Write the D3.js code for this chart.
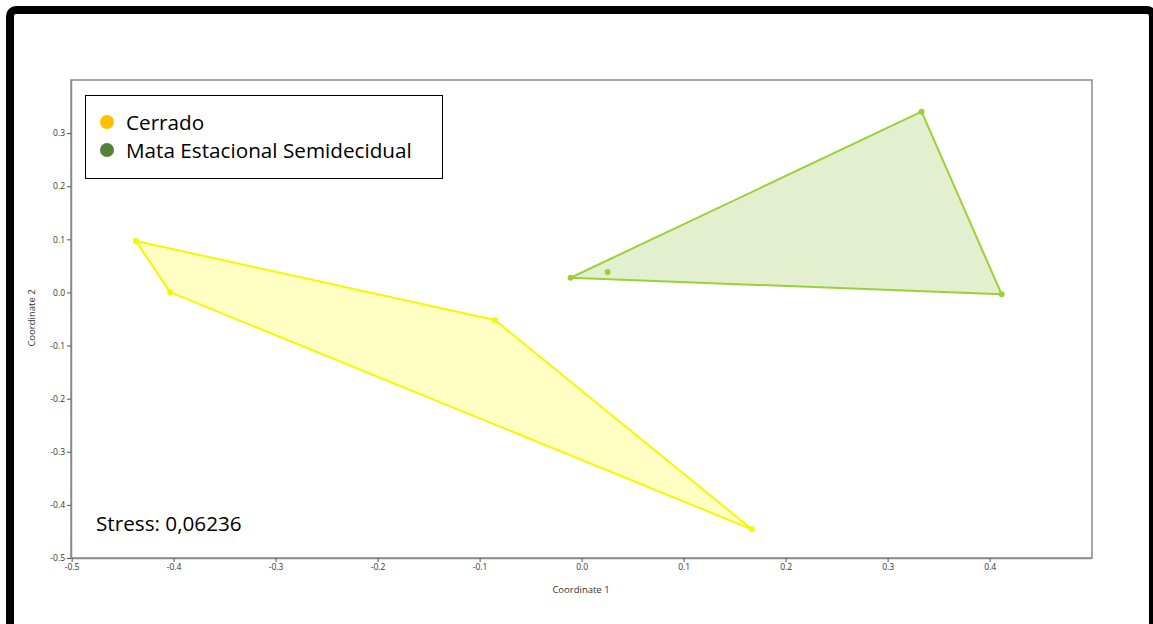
<!DOCTYPE html>
<html>
<head>
<meta charset="utf-8">
<script src="https://cdn.jsdelivr.net/npm/d3@7"></script>
<style>
html,body{margin:0;padding:0;background:#fff;}
svg{display:block;}
</style>
</head>
<body>
<svg id="chart" width="1153" height="624"></svg>
<script>
// Data
const groups = ["Cerrado", "Mata Estacional Semidecidual"];
const legendColors = ["#FFC000", "#548235"];
const cerradoX = [-0.437, -0.4035, -0.085, 0.167];
const cerradoY = [0.097, 0.0005, -0.052, -0.446];
const mataX = [-0.0108, 0.0255, 0.3333, 0.4118];
const mataY = [0.0277, 0.0384, 0.3403, -0.0036];
const xTicks = [-0.5, -0.4, -0.3, -0.2, -0.1, 0.0, 0.1, 0.2, 0.3, 0.4];
const yTicks = [-0.5, -0.4, -0.3, -0.2, -0.1, 0.0, 0.1, 0.2, 0.3];
const stressLabel = "Stress: 0,06236";

const svg = d3.select("#chart");

// outer black frame
svg.append("rect").attr("x", 10).attr("y", 10).attr("width", 1143).attr("height", 640)
  .attr("rx", 6).attr("fill", "none").attr("stroke", "#000").attr("stroke-width", 8);

const x = d3.scaleLinear().domain([-0.5, 0.5]).range([71.6, 1091.6]);
const y = d3.scaleLinear().domain([-0.5, 0.4]).range([558, 80]);

// plot frame
svg.append("rect").attr("x", 71).attr("y", 80).attr("width", 1092 - 71).attr("height", 558 - 80)
  .attr("fill", "none").attr("stroke", "#8a8a8a").attr("stroke-width", 1.5);

const fmt = d => d3.format(".1f")(d).replace("−", "-");

const xAxis = svg.append("g").attr("transform", "translate(0,558)")
  .call(d3.axisBottom(x).tickValues(xTicks).tickSize(4).tickSizeOuter(0).tickPadding(2).tickFormat(fmt));
const yAxis = svg.append("g").attr("transform", "translate(71,0)")
  .call(d3.axisLeft(y).tickValues(yTicks).tickSize(4).tickSizeOuter(0).tickPadding(2).tickFormat(fmt));
[xAxis, yAxis].forEach(a => {
  a.select(".domain").attr("stroke", "#8a8a8a").attr("stroke-width", 1.5);
  a.selectAll(".tick line").attr("stroke", "#555");
  a.selectAll(".tick text").attr("fill", "#333").style("font-family", "'Open Sans', sans-serif").style("font-size", "8.5px");
});

svg.append("text").attr("x", 581).attr("y", 593).attr("text-anchor", "middle")
  .style("font-family", "'Open Sans', sans-serif").style("font-size", "9.5px").attr("fill", "#333")
  .text("Coordinate 1");
svg.append("text").attr("transform", "translate(35,318) rotate(-90)").attr("text-anchor", "middle")
  .style("font-family", "'Open Sans', sans-serif").style("font-size", "9.5px").attr("fill", "#333")
  .text("Coordinate 2");

// hulls
function drawGroup(xs, ys, stroke, fill) {
  const pts = xs.map((v, i) => [x(v), y(ys[i])]);
  const hull = d3.polygonHull(pts);
  svg.append("path").attr("d", "M" + hull.join("L") + "Z")
    .attr("fill", fill).attr("stroke", stroke).attr("stroke-width", 2).attr("stroke-linejoin", "round");
  svg.append("g").selectAll("circle").data(pts).join("circle")
    .attr("cx", d => d[0]).attr("cy", d => d[1]).attr("r", 3).attr("fill", stroke);
}
drawGroup(cerradoX, cerradoY, "#F7F700", "#FFFFC4");
drawGroup(mataX, mataY, "#9BD136", "#E2F0CF");

// legend
svg.append("rect").attr("x", 85.5).attr("y", 95.5).attr("width", 357).attr("height", 83)
  .attr("fill", "#fff").attr("stroke", "#000").attr("stroke-width", 1);
const leg = svg.append("g").selectAll("g").data(groups).join("g")
  .attr("transform", (d, i) => `translate(0,${122 + i * 28})`);
leg.append("circle").attr("cx", 107).attr("cy", 0).attr("r", 7).attr("fill", (d, i) => legendColors[i]);
leg.append("text").attr("x", 126).attr("y", 7.5).text(d => d)
  .style("font-family", "'Open Sans', sans-serif").style("font-size", "20.7px").attr("fill", "#000");

svg.append("text").attr("x", 96).attr("y", 531).text(stressLabel)
  .style("font-family", "'Open Sans', sans-serif").style("font-size", "20.7px").attr("fill", "#000");
</script>
</body>
</html>
